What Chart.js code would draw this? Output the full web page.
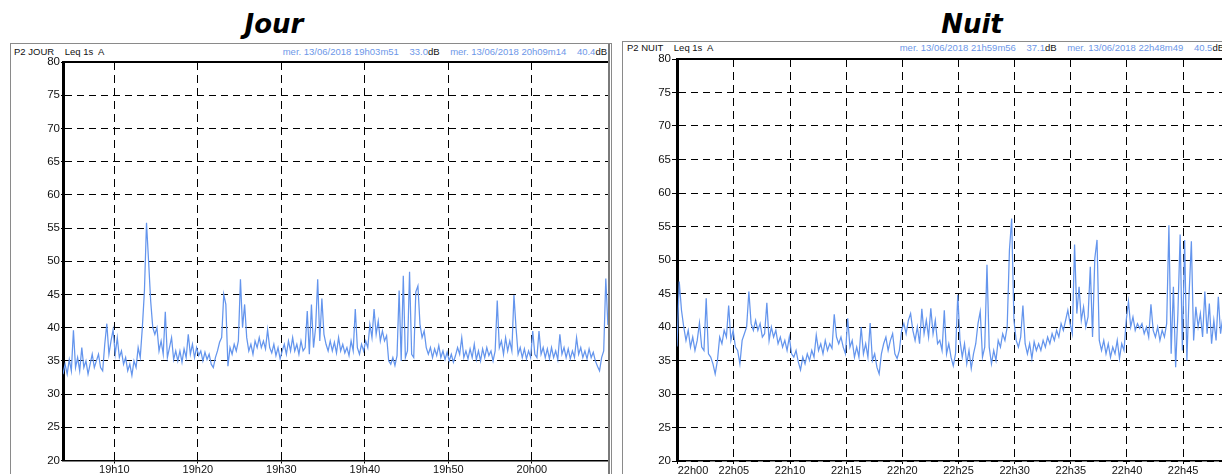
<!DOCTYPE html>
<html><head><meta charset="utf-8">
<script src="https://cdn.jsdelivr.net/npm/chart.js@4/dist/chart.umd.min.js"></script>
<style>
html,body{margin:0;padding:0;background:#fff;overflow:hidden;width:1222px;height:474px;position:relative;font-family:'Liberation Sans',Arial,sans-serif;}
.title{position:absolute;top:9px;font-family:'DejaVu Sans',sans-serif;font-weight:bold;font-style:italic;font-size:26px;line-height:30px;color:#000;text-align:center;width:200px;}
.frame{position:absolute;border:1px solid #8a8a8a;box-sizing:border-box;}
.hdr{position:absolute;font-size:9.5px;line-height:12px;white-space:pre;color:#111;}
.hdr.r{text-align:right;}
.blue{color:#6d97e8;}
canvas{position:absolute;}
</style></head>
<body>
<div class="title" style="left:174px">Jour</div>
<div class="title" style="left:872px">Nuit</div>
<div class="frame" style="left:10px;top:43px;width:602px;height:460px"></div>
<div class="frame" style="left:622px;top:41px;width:620px;height:460px"></div>
<div class="hdr" style="left:14px;top:46px">P2 JOUR    Leq 1s  A</div>
<div class="hdr r" style="left:280px;width:327px;top:46px"><span class="blue">mer. 13/06/2018 19h03m51    33.0</span>dB    <span class="blue">mer. 13/06/2018 20h09m14    40.4</span>dB</div>
<div class="hdr" style="left:627px;top:42px">P2 NUIT    Leq 1s  A</div>
<div class="hdr r" style="left:860px;width:364px;top:42px"><span class="blue">mer. 13/06/2018 21h59m56    37.1</span>dB    <span class="blue">mer. 13/06/2018 22h48m49    40.5</span>dB</div>
<canvas id="cJour" width="604" height="460" style="left:10px;top:44px;width:604px;height:460px"></canvas>
<canvas id="cNuit" width="610" height="460" style="left:622px;top:41px;width:610px;height:460px"></canvas>
<script>
// ---- Data ----
const jourStart = '19h03m51';
const jourEnd = '20h09m14';
const jourStepSeconds = 15;
const jourValues = [33.0,34.5,33,35.2,33.5,39.6,34,35.5,33.5,37,
 34,35,33,34.5,36,34,35,36,34,33.5,
 37.5,40.6,36,38,39.7,36,38.5,35.5,36.5,34.5,
 35.5,33.5,34.5,32.8,35,34,37,35.5,40,45.5,
 55.8,50,44,40,39,40,36.5,38,36,42.4,
 35.5,37,38.5,35.2,36.5,35,36.5,34.8,36.8,35.5,
 39,36,37.5,35.5,37,35.8,36.5,35,36.3,35.2,
 36,34.5,34,35.5,36.5,37.8,38.5,45,43.5,34.2,
 37,36,37.5,36.5,38,47.3,40,43.5,38.5,36.5,
 37.5,36,38,37,38.5,37,38,36.8,39.7,37,
 36.2,37.5,35.8,37,35.3,36.5,37.5,36,38,36.5,
 38.5,36.5,37.5,36,38,36.5,37,42.5,36,43.5,
 37,40,47.3,38,44.4,39,37.5,36.5,38,36.5,
 37.8,36.2,38.5,36.5,37.5,36.2,37,35.8,38,36.5,
 42.8,37,36,37.5,36.5,38,37,40.5,38.5,42.8,
 39,41,38,39.5,38,38.8,35,34.5,35.5,34.3,
 35.8,45.6,35,47.8,35.5,36.5,48.4,36,35.5,45.4,
 46.3,40.5,38.5,39.5,37,36,37,35.5,36.8,35.8,
 37.3,35.5,36.5,35.2,36.3,35,36,34.8,35.8,37,
 36,38.5,35.5,36.5,35.3,36.8,35.5,37.5,35.2,36.5,
 35,36.8,35.5,37,35.8,36.5,35,36.5,44.1,37,
 38,36,38.5,36.5,38,36.5,44.9,40,36,37,
 35.5,36.8,35.3,36.5,35.5,39.5,36,35.5,39.5,36,
 37,35.5,36.8,35.3,37,35.5,36.5,35.2,39,36,
 37,35.5,36.8,35.3,36.5,35.5,38.5,36,37,35.5,
 36.5,35.3,36.8,35.5,36.3,35,34.2,33.5,35.5,36.5,
 47.4,40.4];
const jourTickLabels = ['19h10','19h20','19h30','19h40','19h50','20h00'];

const nuitStart = '21h59m56';
const nuitEnd = '22h48m49';
const nuitStepSeconds = 12;
const nuitValues = [37.1,46.8,42.5,40,38,39.5,37,38.5,36.5,38,
 40.6,37,36.5,44.3,36,35.5,34.5,33,35,38.5,
 37.5,39.5,38.5,43.2,38,39.5,37,36.5,34.5,38,
 39,40,45.3,40.5,39.5,41,39.5,40.5,38.5,39,
 43.6,38,40,38.5,39.5,37.5,38.5,37,38,36.5,
 38.5,36,35.5,36.5,34.8,33.6,35.5,34.5,36,35,
 36.5,35.5,38.8,36.5,37.5,36,38,36.5,37.5,36.8,
 41.9,38.5,37.5,38.5,37,36,41.3,37,38,35.5,
 37,35.5,40,36,37.5,35.5,40.6,35,36,34,
 33,36,37.5,38.5,36.5,38,39,36,35.3,36.5,
 39.5,40.5,39,41,42,39.5,38,40,37.5,42.7,
 39,41,38.5,42.8,39,41,37.5,38,36.5,42.5,
 36,37.5,35.5,34.2,36,44.8,38,35.5,37.5,34.5,
 36.5,33.8,36,37.5,40.5,42.3,35.5,37,49.3,37,
 34.5,36.5,35,38,37,39,38,40,51.5,56.2,
 41,38,37,38.5,43.2,37.5,36,37.5,35.3,37.8,
 36.5,37.5,36.5,38,37,38.5,37.5,39,38,39.5,
 38.5,40.5,39.5,41,42.5,40.5,39,52.3,42,46,
 41,43,40,41.5,49,38.5,50.2,53,38,36.5,
 38,36,37.5,35.5,37,36,38,35.3,37.5,36.5,
 41,43.8,40,41.5,39.5,40.5,39.8,40.5,39,40,
 38.5,43.4,39.5,38.5,40,38,39.5,38.5,40.5,55.2,
 36,46,34,42,53.8,36.5,53,35,45,52.8,
 38,43,40,42,38.5,45.3,39,43.5,37.5,41,
 38,44.5,39,41.5,40.5];
const nuitTickLabels = ['22h00','22h05','22h10','22h15','22h20','22h25','22h30','22h35','22h40','22h45'];

const yMin = 20, yMax = 80, yStep = 5;

// ---- Helpers ----
function toSeconds(s) {
  const m = s.match(/(\d+)h(\d+)(?:m(\d+))?/);
  return (+m[1]) * 3600 + (+m[2]) * 60 + (m[3] ? +m[3] : 0);
}

const framePlugin = {
  id: 'frame',
  afterDraw(chart) {
    const {ctx, chartArea: a} = chart;
    ctx.save();
    ctx.strokeStyle = '#000';
    ctx.lineWidth = 2;
    ctx.beginPath(); ctx.moveTo(a.left, a.top); ctx.lineTo(a.right, a.top); ctx.stroke();
    ctx.strokeStyle = '#7a7a7a';
    ctx.lineWidth = 2;
    ctx.beginPath(); ctx.moveTo(a.right, a.top - 18); ctx.lineTo(a.right, chart.height); ctx.stroke();
    ctx.restore();
  }
};

function makeChart(id, start, end, step, values, tickLabels, geo) {
  const t0 = toSeconds(start);
  const dur = toSeconds(end) - t0;
  const tickVals = tickLabels.map(l => toSeconds(l) - t0);
  const labelMap = new Map(tickVals.map((v, i) => [v, tickLabels[i]]));
  if (geo.inner) tickVals.push(dur);
  const data = values.map((v, i) => ({x: i * step, y: v}));
  const font = {family: "'Liberation Sans', Arial, sans-serif", size: 11};
  return new Chart(document.getElementById(id), {
    type: 'line',
    data: {datasets: [{data, borderColor: '#6495ed', borderWidth: 1.25, pointRadius: 0, tension: 0, fill: false}]},
    options: {
      responsive: false, animation: false, devicePixelRatio: 1,
      layout: {padding: {top: geo.top, right: geo.right, left: 0, bottom: 0}},
      plugins: {legend: {display: false}, tooltip: {enabled: false}},
      scales: {
        x: {
          type: 'linear', min: 0, max: dur,
          afterBuildTicks: s => { s.ticks = tickVals.map(v => ({value: v})); },
          afterFit: s => { s.height = geo.xh; },
          ticks: {autoSkip: false, maxRotation: 0, padding: 0, color: '#111', font,
                  align: geo.inner ? 'inner' : 'center',
                  callback: v => labelMap.has(v) ? labelMap.get(v) : ''},
          grid: {color: '#000', lineWidth: 1, tickLength: 3, tickColor: '#000', tickBorderDash: []},
          border: {display: true, color: '#000', width: 1.5, dash: [8, 5]}
        },
        y: {
          min: yMin, max: yMax,
          afterFit: s => { s.width = geo.yw; },
          ticks: {stepSize: yStep, padding: 1, color: '#111', font: {family: font.family, size: 11.5}},
          grid: {color: '#000', lineWidth: 1, tickLength: geo.yTick, tickColor: '#000', tickBorderDash: []},
          border: {display: true, color: '#000', width: 3, dash: [7, 5]}
        }
      }
    },
    plugins: [framePlugin]
  });
}

makeChart('cJour', jourStart, jourEnd, jourStepSeconds, jourValues, jourTickLabels,
  {top: 18, right: 5, xh: 43.5, yw: 53, yTick: 2, inner: false});
makeChart('cNuit', nuitStart, nuitEnd, nuitStepSeconds, nuitValues, nuitTickLabels,
  {top: 18, right: 6, xh: 40, yw: 55, yTick: 5, inner: true});
</script>
</body></html>
